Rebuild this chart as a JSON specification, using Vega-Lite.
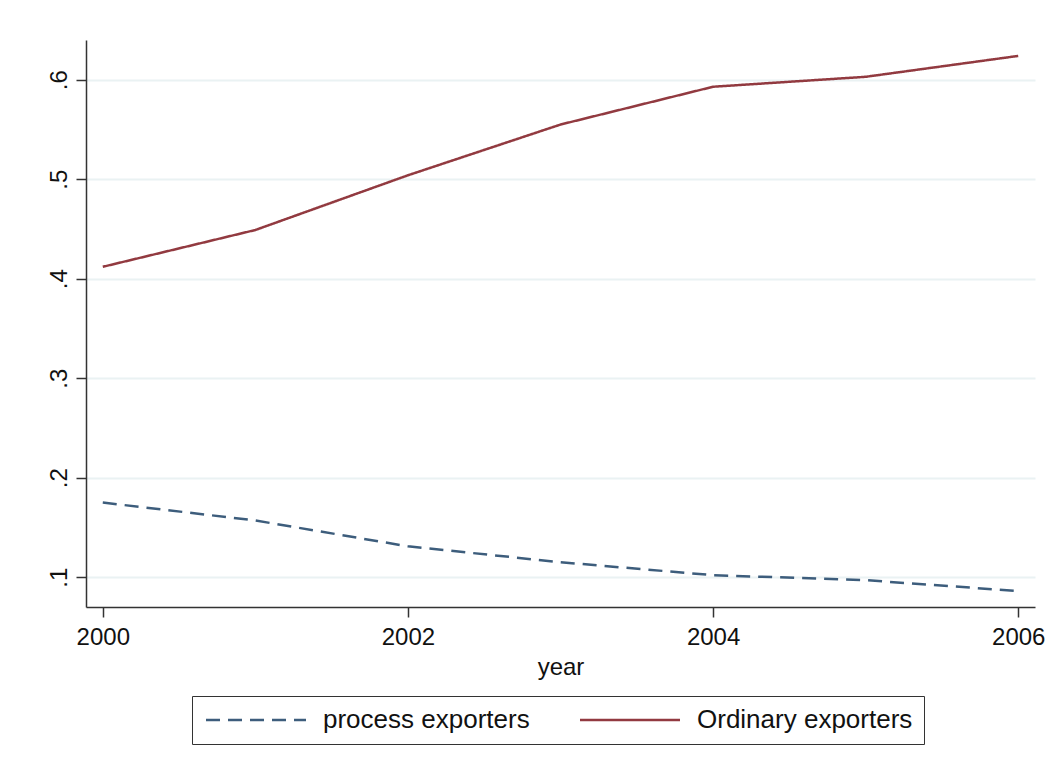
{
  "$schema": "https://vega.github.io/schema/vega-lite/v6.json",
  "width": 949,
  "height": 567,
  "autosize": {"type": "none"},
  "padding": {"left": 86, "top": 40, "right": 12, "bottom": 165},
  "background": "white",
  "config": {
    "font": "Liberation Sans",
    "view": {"stroke": null},
    "axis": {"domainColor": "#333333", "domainWidth": 1.5, "tickColor": "#333333", "tickWidth": 1.5, "tickSize": 10, "labelColor": "#111111", "titleColor": "#111111", "labelFont": "Liberation Sans", "titleFont": "Liberation Sans", "titleFontWeight": "normal"}
  },
  "data": {
    "values": [
      {"year": 2000, "series": "process exporters", "value": 0.175},
      {"year": 2001, "series": "process exporters", "value": 0.157},
      {"year": 2002, "series": "process exporters", "value": 0.131},
      {"year": 2003, "series": "process exporters", "value": 0.115},
      {"year": 2004, "series": "process exporters", "value": 0.102},
      {"year": 2005, "series": "process exporters", "value": 0.097},
      {"year": 2006, "series": "process exporters", "value": 0.086},
      {"year": 2000, "series": "Ordinary exporters", "value": 0.412},
      {"year": 2001, "series": "Ordinary exporters", "value": 0.449},
      {"year": 2002, "series": "Ordinary exporters", "value": 0.504},
      {"year": 2003, "series": "Ordinary exporters", "value": 0.555},
      {"year": 2004, "series": "Ordinary exporters", "value": 0.593},
      {"year": 2005, "series": "Ordinary exporters", "value": 0.603},
      {"year": 2006, "series": "Ordinary exporters", "value": 0.624}
    ]
  },
  "mark": {"type": "line", "strokeWidth": 2.5},
  "encoding": {
    "x": {
      "field": "year", "type": "quantitative",
      "scale": {"domain": [1999.89, 2006.11], "nice": false, "zero": false},
      "axis": {"values": [2000, 2002, 2004, 2006], "format": "d", "grid": false, "labelFontSize": 24, "labelPadding": 8, "title": "year", "titleFontSize": 24, "titlePadding": 6, "labelFlush": false}
    },
    "y": {
      "field": "value", "type": "quantitative",
      "scale": {"domain": [0.07, 0.64], "nice": false, "zero": false},
      "axis": {"values": [0.1, 0.2, 0.3, 0.4, 0.5, 0.6], "labelExpr": "'.' + round(datum.value*10)", "labelAngle": 270, "labelAlign": "center", "labelBaseline": "alphabetic", "labelFontSize": 24, "labelPadding": 10, "title": null, "grid": true, "gridColor": "#EAF2F3", "gridWidth": 2}
    },
    "color": {
      "field": "series", "type": "nominal",
      "scale": {"domain": ["process exporters", "Ordinary exporters"], "range": ["#3D5D7C", "#923A40"]},
      "legend": {"title": null, "orient": "none", "legendX": 106, "legendY": 656, "direction": "horizontal", "strokeColor": "#333333", "padding": 11, "columnPadding": 45, "labelOffset": 94, "symbolType": "M-1,0H9", "symbolSize": 400, "symbolStrokeWidth": 2.5, "labelFontSize": 26, "labelLimit": 0, "labelFont": "Liberation Sans", "labelColor": "#111111", "fillColor": "white"}
    },
    "strokeDash": {
      "field": "series", "type": "nominal",
      "scale": {"domain": ["process exporters", "Ordinary exporters"], "range": [[14, 8], [1, 0]]},
      "legend": null
    }
  }
}
